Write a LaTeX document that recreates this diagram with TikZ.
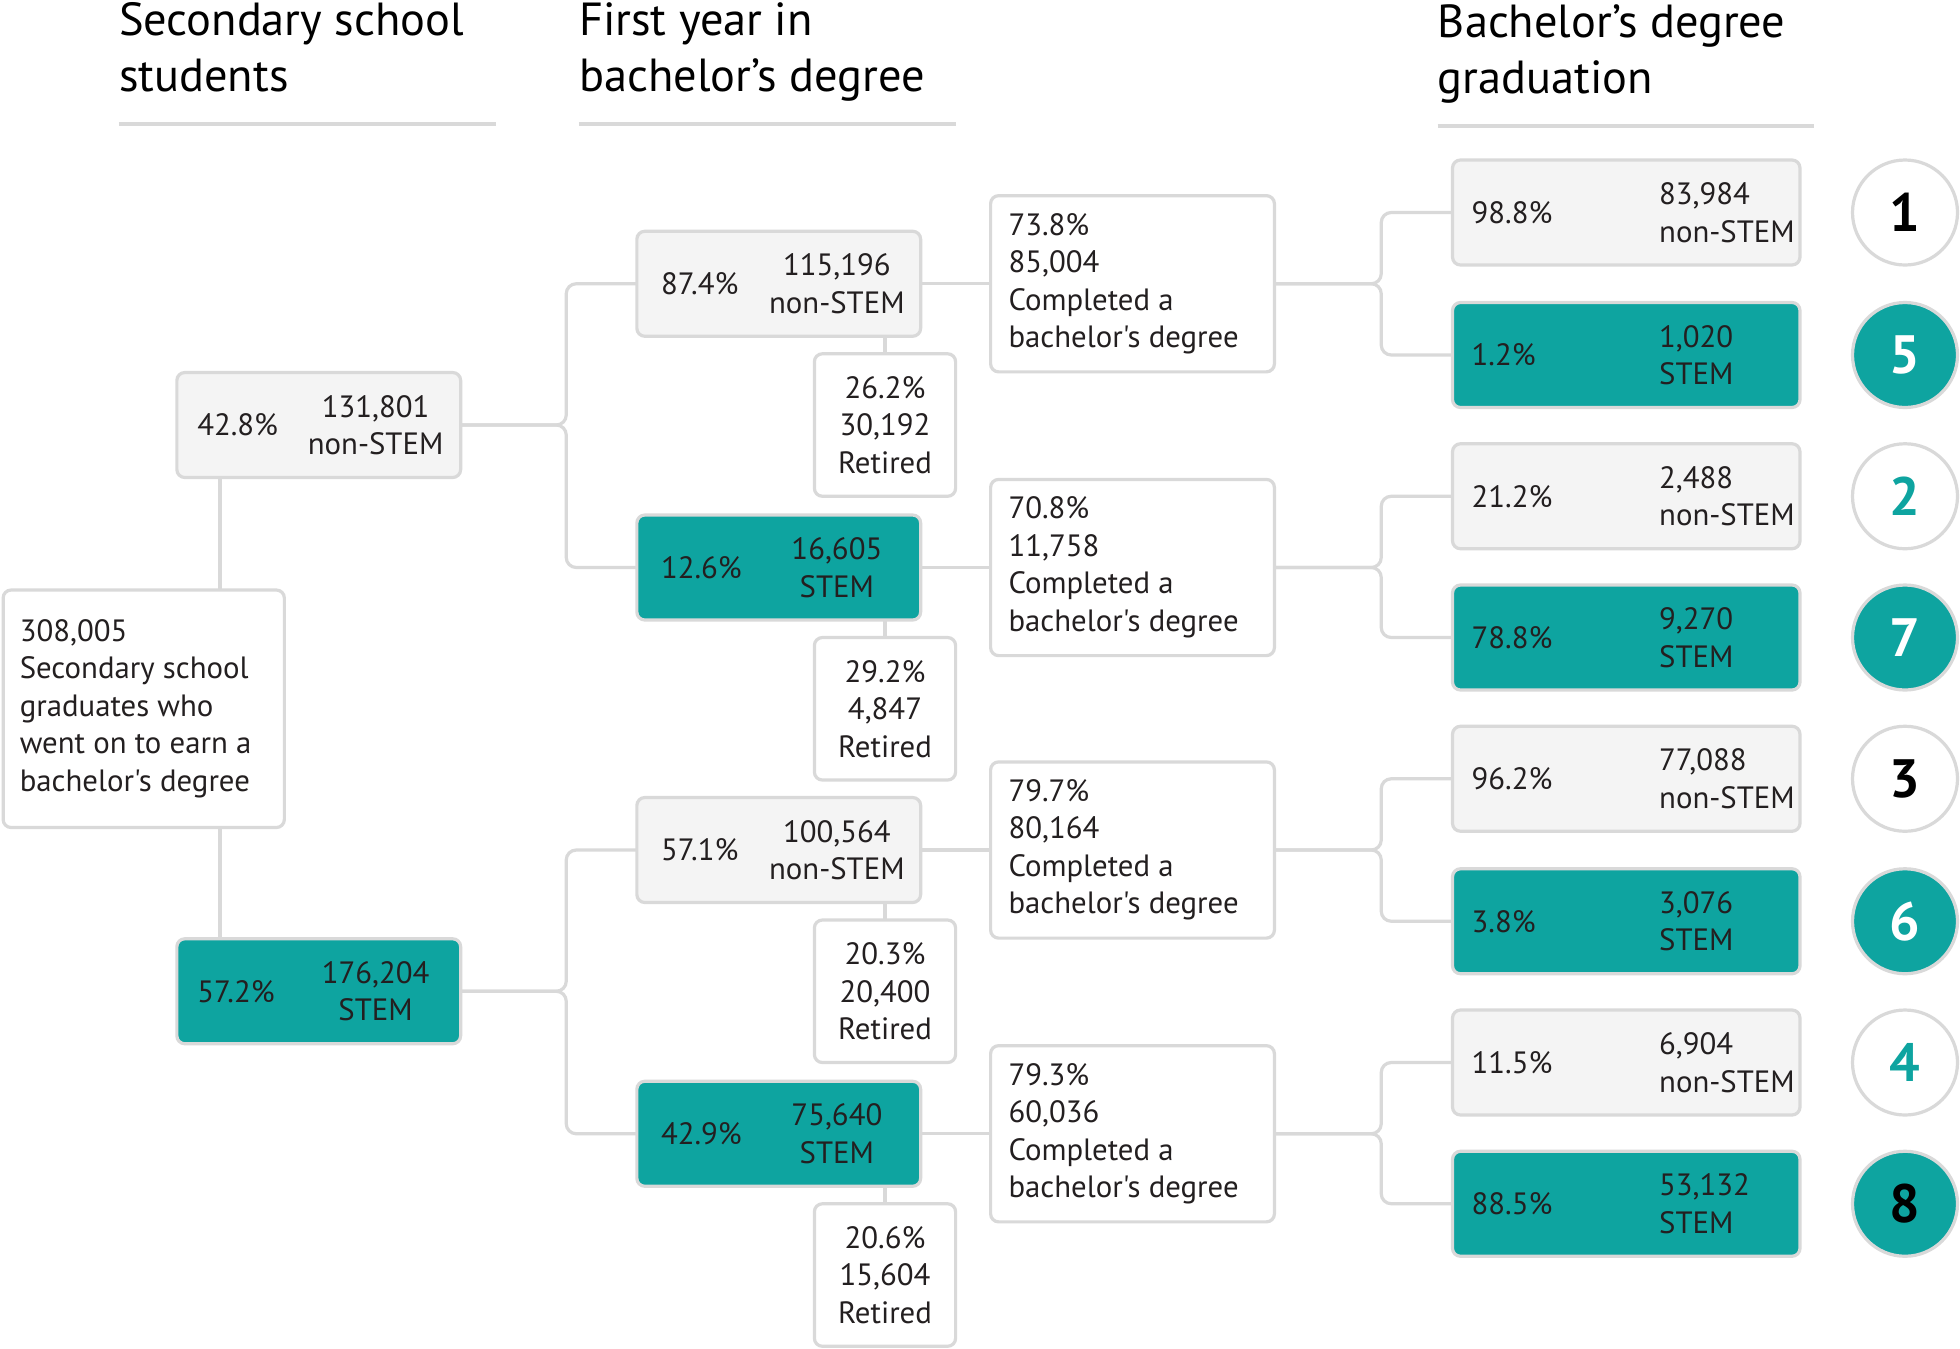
\documentclass[tikz,border=0pt]{standalone}
\usepackage{fontspec}
\setmainfont{PT Sans}
\newfontfamily\bodyfont{PT Sans}
\usetikzlibrary{calc}
\definecolor{tealc}{RGB}{14,164,160}
\definecolor{boxgray}{RGB}{244,244,244}
\definecolor{linegray}{RGB}{217,217,217}
\definecolor{ink}{RGB}{35,31,32}
\begin{document}
\begin{tikzpicture}[x=0.625pt,y=-0.625pt,
 box/.style={draw=linegray,line width=1.6pt,rounded corners=4pt,inner sep=0pt,outer sep=0pt},
 pair/.style={box,minimum width=141.9pt,minimum height=52.5pt},
 grad/.style={box,minimum width=173.75pt,minimum height=52.5pt},
 ret/.style={box,fill=white,minimum width=70.6pt,minimum height=71.25pt},
 comp/.style={box,fill=white,minimum width=141.9pt,minimum height=88.1pt},
 gry/.style={fill=boxgray},
 tl/.style={fill=tealc},
 lbl/.style={font=\bodyfont\fontsize{15.4}{18.75}\selectfont,text=ink,inner sep=0pt,align=left},
 lblc/.style={lbl,align=center},
 conn/.style={draw=linegray,line width=1.6pt,rounded corners=5pt},
 num/.style={circle,draw=linegray,line width=1.6pt,minimum size=52.5pt,inner sep=0pt,font=\bodyfont\bfseries\fontsize{27}{30}\selectfont},
 hdr/.style={font=\bodyfont\fontsize{23.2}{28}\selectfont,text=black,anchor=north west,align=left,inner sep=0pt},
 hrule/.style={draw=linegray,line width=2pt}
]
\useasboundingbox[fill=white] (0,0) rectangle (1568,1079);

% headers
\node[hdr] (h1) at (95,2) {Secondary school\\students};
\node[hdr] (h2) at (463,2) {First year in\\bachelor’s degree};
\node[hdr] (h3) at (1150,3) {Bachelor’s degree\\graduation};
\draw[hrule] (95,99) -- (397,99);
\draw[hrule] (463,99) -- (765,99);
\draw[hrule] (1150,101) -- (1451,101);

% helper x positions
\coordinate (rx) at (176,0);
\coordinate (jx) at (453,0);
\coordinate (kx) at (1105,0);

% level 1
\node[box,fill=white,minimum width=140.6pt,minimum height=118.75pt] (root) at (115,567) {};
\node[lbl,anchor=west] (roott) at ($(root.west)+(13,0)$) {308,005\\Secondary school\\graduates who\\went on to earn a\\bachelor's degree};
\node[pair,gry] (n1) at (255,340) {};
\node[lbl,anchor=west] (n1p) at ($(n1.west)+(16,0)$) {42.8\%};
\node[lblc] (n1n) at ($(n1.east)+(-68,0)$) {131,801\\non-STEM};
\node[pair,tl] (s1) at (255,793) {};
\node[lbl,anchor=west] (s1p) at ($(s1.west)+(16,0)$) {57.2\%};
\node[lblc] (s1n) at ($(s1.east)+(-68,0)$) {176,204\\STEM};

% level 2
\node[pair,gry] (a) at (623,227) {};
\node[lbl,anchor=west] at ($(a.west)+(19,0)$) {87.4\%};
\node[lblc] at ($(a.east)+(-67,0)$) {115,196\\non-STEM};
\node[pair,tl] (b) at (623,454) {};
\node[lbl,anchor=west] at ($(b.west)+(19,0)$) {12.6\%};
\node[lblc] at ($(b.east)+(-67,0)$) {16,605\\STEM};
\node[pair,gry] (c) at (623,680) {};
\node[lbl,anchor=west] at ($(c.west)+(19,0)$) {57.1\%};
\node[lblc] at ($(c.east)+(-67,0)$) {100,564\\non-STEM};
\node[pair,tl] (d) at (623,907) {};
\node[lbl,anchor=west] at ($(d.west)+(19,0)$) {42.9\%};
\node[lblc] at ($(d.east)+(-67,0)$) {75,640\\STEM};

% retired
\node[ret] (ra) at (708,340) {};
\node[lblc] at (ra) {26.2\%\\30,192\\Retired};
\node[ret] (rb) at (708,567) {};
\node[lblc] at (rb) {29.2\%\\4,847\\Retired};
\node[ret] (rc) at (708,793) {};
\node[lblc] at (rc) {20.3\%\\20,400\\Retired};
\node[ret] (rd) at (708,1020) {};
\node[lblc] at (rd) {20.6\%\\15,604\\Retired};

% completed
\node[comp] (ca) at (906,227) {};
\node[lbl,anchor=west] at ($(ca.west)+(14,0)$) {73.8\%\\85,004\\Completed a\\bachelor's degree};
\node[comp] (cb) at (906,454) {};
\node[lbl,anchor=west] at ($(cb.west)+(14,0)$) {70.8\%\\11,758\\Completed a\\bachelor's degree};
\node[comp] (cc) at (906,680) {};
\node[lbl,anchor=west] at ($(cc.west)+(14,0)$) {79.7\%\\80,164\\Completed a\\bachelor's degree};
\node[comp] (cd) at (906,907) {};
\node[lbl,anchor=west] at ($(cd.west)+(14,0)$) {79.3\%\\60,036\\Completed a\\bachelor's degree};

% graduation
\foreach \nm/\y/\st/\p/\n/\l in {
  g1/170/gry/98.8/{83,984}/{non-STEM},
  g5/284/tl/1.2/{1,020}/{STEM},
  g2/397/gry/21.2/{2,488}/{non-STEM},
  g7/510/tl/78.8/{9,270}/{STEM},
  g3/623/gry/96.2/{77,088}/{non-STEM},
  g6/737/tl/3.8/{3,076}/{STEM},
  g4/850/gry/11.5/{6,904}/{non-STEM},
  g8/963/tl/88.5/{53,132}/{STEM}}{
  \node[grad,\st] (\nm) at (1301,\y) {};
  \node[lbl,anchor=west] at ($(\nm.west)+(15,0)$) {\p\%};
  \node[lbl,anchor=west] at ($(\nm.west)+(165,0)$) {\n\\\l};
}

% circles
\node[num,fill=white,text=black] (c1) at (1524,170) {1};
\node[num,fill=tealc,text=white] (c5) at (1524,284) {5};
\node[num,fill=white,text=tealc] (c2) at (1524,397) {2};
\node[num,fill=tealc,text=white] (c7) at (1524,510) {7};
\node[num,fill=white,text=black] (c3) at (1524,623) {3};
\node[num,fill=tealc,text=white] (c6) at (1524,737) {6};
\node[num,fill=white,text=tealc] (c4) at (1524,850) {4};
\node[num,fill=tealc,text=black] (c8) at (1524,963) {8};

% connectors
\draw[conn] (n1.south -| rx) -- (root.north -| rx);
\draw[conn] (root.south -| rx) -- (s1.north -| rx);
\draw[conn] (n1.east) -- (n1.east -| jx) |- (a.west);
\draw[conn] (n1.east) -- (n1.east -| jx) |- (b.west);
\draw[conn] (s1.east) -- (s1.east -| jx) |- (c.west);
\draw[conn] (s1.east) -- (s1.east -| jx) |- (d.west);
\draw[conn] (a.south -| ra.north) -- (ra.north);
\draw[conn] (b.south -| rb.north) -- (rb.north);
\draw[conn] (c.south -| rc.north) -- (rc.north);
\draw[conn] (d.south -| rd.north) -- (rd.north);
\draw[conn] (a.east) -- (ca.west);
\draw[conn] (b.east) -- (cb.west);
\draw[conn] (c.east) -- (cc.west);
\draw[conn] (d.east) -- (cd.west);
\draw[conn] (ca.east) -- (ca.east -| kx) |- (g1.west);
\draw[conn] (ca.east) -- (ca.east -| kx) |- (g5.west);
\draw[conn] (cb.east) -- (cb.east -| kx) |- (g2.west);
\draw[conn] (cb.east) -- (cb.east -| kx) |- (g7.west);
\draw[conn] (cc.east) -- (cc.east -| kx) |- (g3.west);
\draw[conn] (cc.east) -- (cc.east -| kx) |- (g6.west);
\draw[conn] (cd.east) -- (cd.east -| kx) |- (g4.west);
\draw[conn] (cd.east) -- (cd.east -| kx) |- (g8.west);
\end{tikzpicture}
\end{document}
